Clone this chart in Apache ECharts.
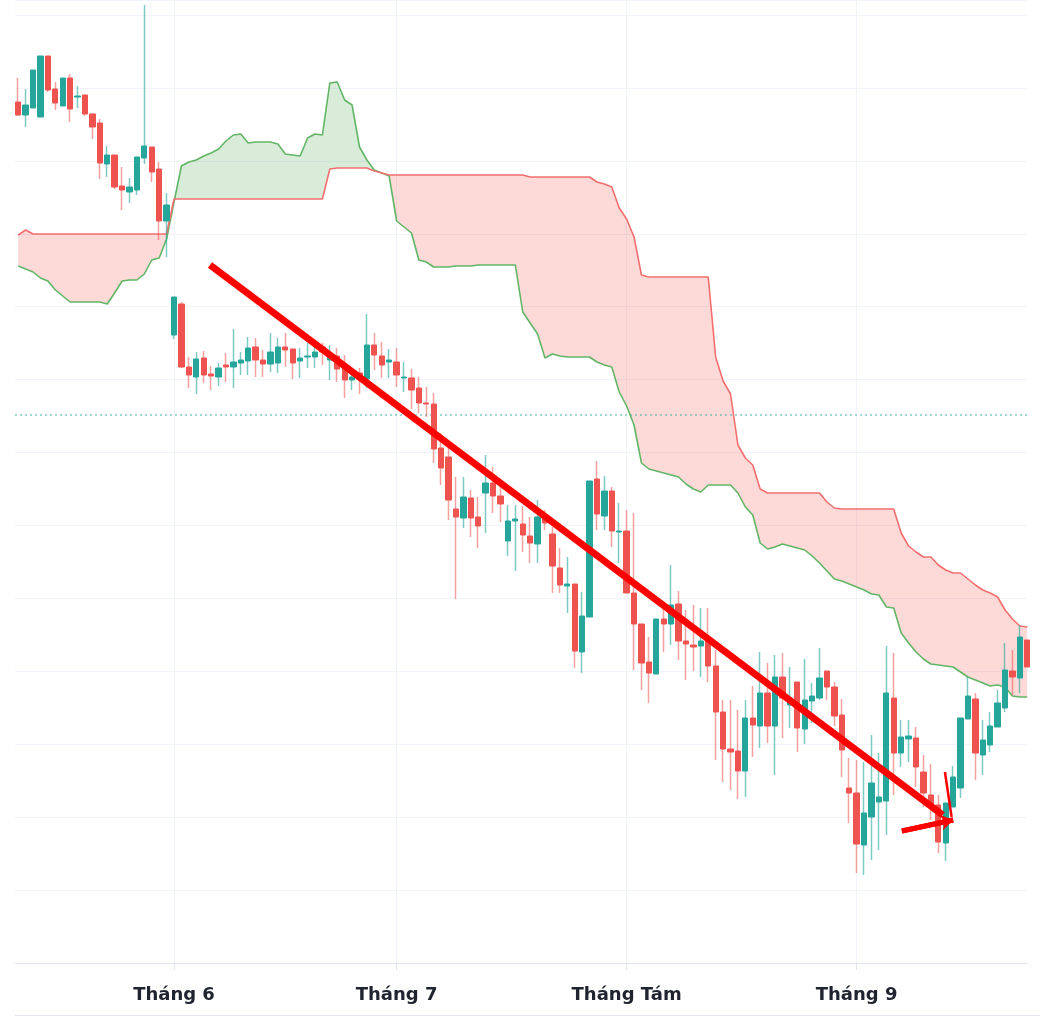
<!DOCTYPE html>
<html>
<head>
<meta charset="utf-8">
<script src="https://cdn.jsdelivr.net/npm/echarts@6/dist/echarts.min.js"></script>
<style>html,body{margin:0;padding:0;background:#fff}#c{width:1040px;height:1017px}</style>
</head>
<body>
<div id="c"></div>
<script>
// Daily candles, index 0 = 11 May ... index 136 = 24 Sep
const openP = [8.61,8.48,8.55,8.46,9.07,8.74,8.57,8.85,8.66,8.68,
8.49,8.40,7.99,8.08,7.77,7.71,7.73,8.05,8.16,7.94,
7.42,6.28,6.59,5.96,5.86,6.05,5.89,5.86,5.98,5.96,
6.00,6.02,6.16,6.03,5.99,6.00,6.16,6.14,6.02,6.06,
6.06,6.16,6.03,6.07,5.95,5.83,5.90,5.84,6.18,6.07,
6.01,6.01,5.85,5.85,5.75,5.60,5.59,5.15,5.06,4.54,
4.45,4.65,4.46,4.70,4.80,4.67,4.22,4.42,4.39,4.27,
4.19,4.46,4.29,3.95,3.77,3.79,3.11,3.46,4.84,4.47,
4.72,4.31,4.32,3.70,3.39,3.01,2.89,3.44,3.39,3.59,
3.22,3.18,3.17,3.22,2.97,2.51,2.14,2.12,1.92,2.45,
2.37,2.70,2.37,2.86,2.58,2.81,2.34,2.62,2.65,2.92,
2.76,2.48,1.75,1.70,1.18,1.46,1.61,1.62,2.65,2.10,
2.24,2.25,1.91,1.68,1.58,1.20,1.56,1.75,2.44,2.64,
2.08,2.18,2.36,2.55,2.92,2.85,3.23];
const closeP = [8.48,8.58,8.93,9.07,8.73,8.60,8.85,8.54,8.67,8.49,
8.36,8.00,8.08,7.76,7.73,7.76,8.06,8.17,7.91,7.42,
7.58,6.66,5.96,5.88,6.04,5.88,5.87,5.95,5.96,6.01,
6.03,6.15,6.03,5.99,6.11,6.16,6.13,6.00,6.05,6.07,
6.11,6.11,6.08,5.94,5.83,5.86,5.84,6.18,6.08,5.98,
6.03,5.88,5.86,5.73,5.60,5.59,5.14,4.95,4.63,4.46,
4.66,4.45,4.37,4.80,4.67,4.59,4.42,4.44,4.28,4.20,
4.46,4.40,3.97,3.78,3.79,3.12,3.47,4.82,4.49,4.72,
4.32,4.32,3.70,3.39,3.00,2.90,3.44,3.39,3.58,3.22,
3.19,3.16,3.22,2.97,2.51,2.14,2.11,1.92,2.45,2.38,
2.70,2.37,2.86,2.65,2.65,2.35,2.63,2.67,2.85,2.76,
2.47,2.13,1.70,1.19,1.50,1.80,1.66,2.70,2.10,2.26,
2.27,1.96,1.70,1.56,1.21,1.60,1.86,2.45,2.67,2.10,
2.23,2.37,2.60,2.93,2.86,3.26,2.96];
const lowP = [8.47,8.36,8.55,8.46,8.71,8.53,8.57,8.41,8.55,8.47,
8.24,7.84,7.86,7.74,7.53,7.60,7.68,7.99,7.81,7.23,
7.06,6.24,5.95,5.75,5.69,5.80,5.73,5.77,5.81,5.75,
5.88,5.88,5.86,5.86,5.91,5.90,5.96,5.84,5.85,5.95,
5.95,5.98,5.83,5.81,5.65,5.73,5.69,5.75,5.93,5.85,
5.85,5.76,5.71,5.54,5.50,5.46,5.00,4.78,4.43,3.64,
4.35,4.26,4.15,4.30,4.50,4.41,4.07,3.92,4.11,4.00,
4.00,4.33,3.70,3.70,3.50,2.95,2.90,3.46,4.33,4.33,
4.16,4.00,3.70,2.93,2.73,2.60,2.89,3.11,3.18,3.03,
2.83,2.92,2.86,2.81,2.03,1.81,1.73,1.64,1.66,2.06,
2.15,2.20,1.88,2.25,2.35,2.11,2.19,2.40,2.63,2.63,
2.37,1.86,1.40,0.90,0.88,1.03,1.13,1.28,1.68,1.96,
2.01,1.76,1.56,1.43,1.10,1.02,1.56,1.65,2.44,1.83,
1.88,2.11,2.36,2.51,2.68,2.70,2.73];
const highP = [8.85,8.74,8.93,9.07,9.07,8.81,8.85,8.89,8.77,8.68,
8.50,8.44,8.17,8.08,7.96,7.85,8.06,9.58,8.16,8.01,
7.70,6.66,6.61,6.06,6.11,6.12,5.97,6.00,6.10,6.34,
6.11,6.26,6.25,6.13,6.30,6.25,6.30,6.14,6.15,6.20,
6.20,6.20,6.18,6.15,6.08,5.95,5.95,6.49,6.30,6.21,
6.14,6.15,6.01,5.94,5.86,5.76,5.70,5.30,5.18,4.86,
4.86,4.73,4.66,5.08,4.96,4.81,4.58,4.58,4.57,4.46,
4.63,4.53,4.36,4.15,4.06,3.79,3.71,4.82,5.02,4.87,
4.76,4.60,4.53,4.50,3.39,3.26,3.44,3.59,3.98,3.72,
3.53,3.58,3.55,3.55,3.13,2.63,2.63,2.53,2.63,2.77,
3.11,3.00,3.08,3.10,2.96,2.81,3.04,2.80,3.15,2.92,
2.81,2.64,2.05,2.03,2.01,2.28,2.10,3.17,3.10,2.43,
2.43,2.36,2.08,1.99,1.68,1.60,1.97,2.45,2.86,2.70,
2.43,2.51,2.73,3.20,3.13,3.38,3.36];
// Ichimoku cloud: Senkou Span A (green) and Senkou Span B (red)
const spanA = [6.97,6.94,6.91,6.85,6.82,6.73,6.67,6.61,6.61,6.61,
6.61,6.61,6.59,6.70,6.82,6.83,6.83,6.89,7.03,7.05,
7.24,7.61,7.97,8.01,8.03,8.07,8.10,8.14,8.22,8.28,
8.29,8.20,8.21,8.21,8.21,8.19,8.09,8.08,8.07,8.25,
8.29,8.28,8.80,8.81,8.63,8.58,8.16,8.03,7.93,7.90,
7.87,7.42,7.36,7.30,7.03,7.01,6.96,6.96,6.96,6.97,
6.97,6.97,6.98,6.98,6.98,6.98,6.98,6.98,6.51,6.40,
6.29,6.05,6.09,6.07,6.06,6.06,6.06,6.06,6.01,5.98,
5.96,5.71,5.57,5.38,5.00,4.94,4.92,4.90,4.88,4.86,
4.79,4.74,4.71,4.78,4.78,4.78,4.78,4.70,4.56,4.48,
4.20,4.14,4.16,4.19,4.17,4.15,4.13,4.07,4.00,3.92,
3.84,3.82,3.79,3.76,3.73,3.69,3.68,3.56,3.55,3.30,
3.20,3.11,3.04,2.99,2.98,2.97,2.96,2.91,2.86,2.83,
2.80,2.77,2.78,2.76,2.67,2.66,2.66];
const spanB = [7.28,7.33,7.29,7.29,7.29,7.29,7.29,7.29,7.29,7.29,
7.29,7.29,7.29,7.29,7.29,7.29,7.29,7.29,7.29,7.29,
7.29,7.64,7.64,7.64,7.64,7.64,7.64,7.64,7.64,7.64,
7.64,7.64,7.64,7.64,7.64,7.64,7.64,7.64,7.64,7.64,
7.64,7.64,7.94,7.95,7.95,7.95,7.95,7.95,7.92,7.90,
7.88,7.88,7.88,7.88,7.88,7.88,7.88,7.88,7.88,7.88,
7.88,7.88,7.88,7.88,7.88,7.88,7.88,7.88,7.88,7.86,
7.86,7.86,7.86,7.86,7.86,7.86,7.86,7.86,7.81,7.79,
7.76,7.55,7.44,7.26,6.88,6.86,6.86,6.86,6.86,6.86,
6.86,6.86,6.86,6.86,6.06,5.82,5.69,5.18,5.05,4.98,
4.74,4.70,4.70,4.70,4.70,4.70,4.70,4.70,4.70,4.61,
4.55,4.54,4.54,4.54,4.54,4.54,4.54,4.54,4.54,4.30,
4.17,4.11,4.06,4.06,3.98,3.93,3.90,3.90,3.84,3.78,
3.73,3.70,3.66,3.53,3.44,3.37,3.36];
// time axis: day index of the first day of each month, and its label
const monthTickDays = [21, 51, 82, 113];
const monthLabels = ['Tháng 6', 'Tháng 7', 'Tháng Tám', 'Tháng 9'];
// hand-drawn annotations, in [day index, price]
const trendLine = [[25.85, 6.98], [124.6, 1.48]];
const arrowShaft = [[119.1, 1.32], [126.0, 1.43]];
const arrowArm = [[124.9, 1.91], [125.8, 1.46]];
const priceLine = 5.48;

const UP = '#26a69a', DOWN = '#ef5350';
const wickData = openP.map((o, i) => [i, o, closeP[i], lowP[i], highP[i]]);
const bodyData = openP.map((o, i) => [i, o, closeP[i], Math.min(o, closeP[i]), Math.max(o, closeP[i])]);
const lineA = spanA.map((v, i) => [i, v]);
const lineB = spanB.map((v, i) => [i, v]);
const priceLineData = [[-0.43, priceLine], [135.96, priceLine]];

function sgn(d) { return d > 0 ? 1 : (d < 0 ? -1 : 0); }
function cloudRender(params, api) {
  const runs = [];
  let first = 0;
  for (let i = 0; i < spanA.length; i++) { const s = sgn(spanA[i] - spanB[i]); if (s !== 0) { first = s; break; } }
  let cur = { sign: first, pts: [[0, spanA[0], spanB[0]]] };
  for (let i = 0; i < spanA.length - 1; i++) {
    const d0 = spanA[i] - spanB[i], d1 = spanA[i + 1] - spanB[i + 1];
    const s1 = sgn(d1);
    if (s1 !== 0 && s1 !== cur.sign) {
      let X, Y;
      if (d0 !== 0) {
        const t = d0 / (d0 - d1);
        X = i + t; Y = spanA[i] + t * (spanA[i + 1] - spanA[i]);
        cur.pts.push([X, Y, Y]);
      } else {
        X = i; Y = spanA[i];
      }
      runs.push(cur);
      cur = { sign: s1, pts: [[X, Y, Y]] };
    }
    cur.pts.push([i + 1, spanA[i + 1], spanB[i + 1]]);
  }
  runs.push(cur);
  const children = runs.map(r => {
    const top = r.pts.map(p => api.coord([p[0], p[1]]));
    const bot = r.pts.slice().reverse().map(p => api.coord([p[0], p[2]]));
    return {
      type: 'polygon',
      shape: { points: top.concat(bot) },
      style: { fill: r.sign > 0 ? 'rgba(67,160,71,0.2)' : 'rgba(244,67,54,0.2)', stroke: null }
    };
  });
  return { type: 'group', children };
}

const chart = echarts.init(document.getElementById('c'), null, { renderer: 'canvas' });
chart.setOption({
  animation: false,
  backgroundColor: '#ffffff',
  grid: { left: 15, right: 13, top: 0, bottom: 54 },
  xAxis: {
    type: 'value', min: -0.43, max: 135.96,
    axisLine: { show: true, lineStyle: { color: '#e0e3eb', width: 1 } },
    axisTick: { show: true, customValues: monthTickDays, length: 7, lineStyle: { color: '#e0e3eb' } },
    axisLabel: {
      customValues: monthTickDays,
      formatter: v => monthLabels[monthTickDays.indexOf(Math.round(v))] || '',
      margin: 23, fontFamily: 'DejaVu Sans', fontWeight: 'bold', fontSize: 18, color: '#20242f'
    },
    splitLine: { show: true, lineStyle: { color: '#f0f3fa', width: 1 } }
  },
  yAxis: {
    type: 'value', min: 0, max: 9.63, interval: 0.7292, position: 'right',
    axisLine: { show: false }, axisTick: { show: false }, axisLabel: { show: false },
    splitLine: { show: true, lineStyle: { color: '#f0f3fa', width: 1 } }
  },
  graphic: [{
    type: 'line', silent: true,
    shape: { x1: 15, y1: 1015.5, x2: 1040, y2: 1015.5 },
    style: { stroke: '#e0e3eb', lineWidth: 1 }
  }],
  series: [
    { type: 'custom', name: 'cloud', data: [[0, 0]], encode: { x: 0, y: 1 }, z: 1, silent: true, clip: true, renderItem: cloudRender },
    { type: 'line', name: 'Senkou A', data: lineA, z: 2, symbol: 'none', silent: true, lineStyle: { color: '#63b566', width: 1.6 } },
    { type: 'line', name: 'Senkou B', data: lineB, z: 2, symbol: 'none', silent: true, lineStyle: { color: '#f36f6f', width: 1.6 } },
    { type: 'line', name: 'price line', data: priceLineData, z: 2, symbol: 'none', silent: true, lineStyle: { color: '#26a69a', width: 1.2, type: [2, 3], opacity: 0.85 } },
    {
      type: 'candlestick', name: 'wick', data: wickData, encode: { x: 0, y: [1, 2, 3, 4] }, z: 3,
      barWidth: 0.5, silent: true,
      itemStyle: { color: 'transparent', color0: 'transparent', borderColor: 'rgba(38,166,154,0.6)', borderColor0: 'rgba(239,83,80,0.55)', borderWidth: 1.5 }
    },
    {
      type: 'candlestick', name: 'body', data: bodyData, encode: { x: 0, y: [1, 2, 3, 4] }, z: 4,
      barWidth: 5.8, silent: true,
      itemStyle: { color: UP, color0: DOWN, borderColor: UP, borderColor0: DOWN, borderWidth: 1 }
    },
    { type: 'line', name: 'trend', data: trendLine, z: 6, symbol: 'none', silent: true, lineStyle: { color: '#ff0000', width: 7, cap: 'butt' } },
    { type: 'line', name: 'arrow arm', data: arrowArm, z: 6, symbol: 'none', silent: true, lineStyle: { color: '#ff0000', width: 2.5 } },
    {
      type: 'line', name: 'arrow', data: arrowShaft, z: 6, symbol: 'none', silent: true, lineStyle: { color: '#ff0000', width: 5 },
      markLine: {
        silent: true, symbol: ['none', 'arrow'], symbolSize: [12, 12], label: { show: false },
        lineStyle: { color: '#ff0000', width: 5, type: 'solid' },
        data: [[{ coord: arrowShaft[0] }, { coord: arrowShaft[1] }]]
      }
    }
  ]
});
</script>
</body>
</html>
